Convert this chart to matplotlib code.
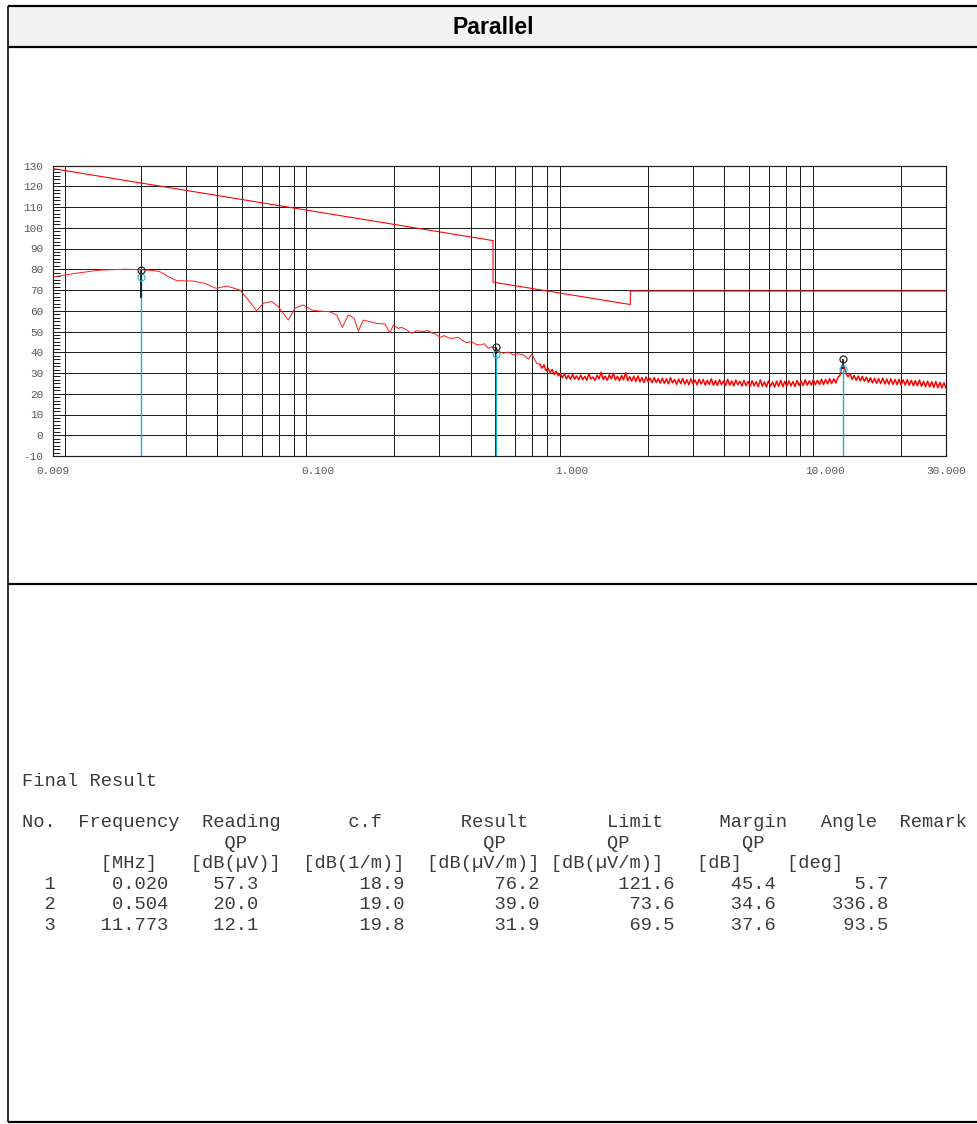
import numpy as np
import matplotlib
matplotlib.use("Agg")
import matplotlib.pyplot as plt
from matplotlib.ticker import FixedLocator, MultipleLocator, LogLocator, NullFormatter, FixedFormatter
from matplotlib.patches import Rectangle

plt.rcParams["axes.unicode_minus"] = False

# ---------------------------------------------------------------- data
# limit line corner points (MHz, dB(uV/m))
limit_freq = [0.009, 0.49, 0.49, 1.705, 1.705, 30.0]
limit_level = [128.5, 93.8, 73.8, 63.0, 69.5, 69.5]

# low-frequency part of the scan (MHz, dB(uV/m))
scan_freq_low = [0.009, 0.01099, 0.01379, 0.01731, 0.0200, 0.02273, 0.02379, 0.02558,
                 0.02768, 0.03219, 0.03579, 0.03956, 0.0436, 0.0492, 0.05305, 0.05726,
                 0.06078, 0.06562, 0.06968, 0.0763, 0.08107, 0.08743, 0.09435, 0.1000,
                 0.1114, 0.1184, 0.1246, 0.1316, 0.1386, 0.1441, 0.1508, 0.1603,
                 0.1703, 0.1836, 0.1921, 0.1980, 0.2072, 0.2137, 0.2237, 0.2340,
                 0.2449, 0.2600, 0.2700, 0.2806, 0.2920, 0.3027, 0.3150, 0.3280,
                 0.3415, 0.3560, 0.3700, 0.3857, 0.4020, 0.4180, 0.4351, 0.4520,
                 0.4693, 0.4860, 0.5040, 0.5200, 0.5378, 0.5630, 0.5890, 0.6150,
                 0.6449, 0.6600, 0.6749, 0.6961, 0.7120, 0.7284]
scan_level_low = [76.3, 78.0, 79.6, 80.0, 79.8, 79.3, 78.8, 76.5,
                  74.5, 74.3, 73.2, 70.8, 71.9, 70.0, 65.2, 60.0,
                  63.6, 64.4, 62.0, 55.5, 61.2, 62.8, 60.4, 59.9,
                  59.5, 58.0, 52.0, 58.0, 56.4, 50.2, 55.5, 54.7,
                  53.9, 53.6, 49.4, 53.1, 51.5, 52.0, 50.7, 49.1,
                  50.4, 49.9, 50.5, 49.4, 48.6, 47.2, 48.0, 46.9,
                  46.7, 47.3, 45.8, 44.6, 45.2, 43.9, 43.5, 44.1,
                  41.9, 42.6, 42.0, 40.3, 39.5, 40.1, 38.7, 39.3,
                  38.7, 37.9, 36.6, 39.2, 36.8, 34.7]

# noise floor 0.75 MHz .. 30 MHz, one reading per sweep step
floor_start, floor_stop = 0.75, 30.0
floor_level = [
    34.2, 32.3, 33.9, 31.1, 32.4, 30.3, 31.7, 29.2, 30.8, 28.6, 29.8, 27.7, 29.6, 27.2, 28.9, 26.9, 29.4, 27.0, 28.6, 26.7,
    29.0, 26.8, 28.4, 26.5, 29.7, 27.1, 28.1, 26.4, 28.9, 27.2, 30.4, 26.8, 28.5, 26.5, 29.1, 27.2, 29.9, 26.6, 28.4, 26.3,
    28.8, 26.7, 30.2, 26.3, 28.2, 26.1, 28.5, 25.9, 28.6, 25.7, 27.8, 25.4, 28.1, 25.8, 27.5, 25.3, 27.8, 25.4, 27.3, 25.1,
    27.5, 25.0, 27.2, 24.7, 27.8, 25.2, 26.9, 24.5, 27.1, 24.9, 27.4, 24.6, 26.8, 24.3, 27.2, 24.8, 26.6, 24.3, 27.0, 24.7,
    26.9, 24.2, 26.5, 24.5, 27.2, 24.1, 26.3, 24.0, 26.8, 24.4, 26.2, 23.9, 27.0, 24.2, 26.1, 23.8, 26.6, 24.3, 26.0, 23.7,
    26.5, 23.9, 25.9, 23.5, 26.3, 23.8, 25.8, 23.4, 26.8, 23.6, 25.7, 23.3, 26.2, 23.7, 25.6, 23.2, 26.1, 23.6, 26.5, 23.4,
    26.0, 23.6, 26.2, 23.8, 25.9, 23.5, 26.4, 24.0, 26.1, 23.9, 26.7, 24.1, 26.2, 24.2, 26.8, 24.3, 26.5, 24.5, 27.0, 24.4,
    26.9, 24.7, 27.3, 24.9, 27.2, 25.2, 27.8, 28.8, 33.6, 33.2, 29.8, 28.2, 29.6, 26.9, 28.8, 26.5, 28.6, 26.2, 28.3, 26.0,
    28.0, 25.5, 27.7, 25.2, 27.5, 25.0, 27.3, 24.9, 27.6, 24.7, 27.1, 24.6, 27.2, 24.5, 26.9, 24.4, 27.0, 24.3, 26.7, 24.2,
    26.8, 24.1, 26.5, 23.9, 26.3, 23.8, 26.6, 23.6, 26.0, 23.4, 26.1, 23.3, 25.8, 23.1, 25.9, 22.9, 25.5, 22.8, 25.3, 22.7,
]

# final QP results
res_no = [1, 2, 3]
res_freq = [0.020, 0.504, 11.773]
res_reading = [57.3, 20.0, 12.1]
res_cf = [18.9, 19.0, 19.8]
res_result = [76.2, 39.0, 31.9]
res_limit = [121.6, 73.6, 69.5]
res_margin = [45.4, 34.6, 37.6]
res_angle = [5.7, 336.8, 93.5]

# peak-search markers
peak_level = [79.8, 42.4, 36.6]
peak_stem_end = [66.0, 39.0, 31.9]

xtick_vals = [0.009, 0.1, 1.0, 10.0, 30.0]
xtick_labels = ["0.009", "0.100", "1.000", "10.000", "30.000"]
ytick_vals = list(range(-10, 131, 10))

title_text = "Parallel"
table_title = "Final Result"
head_cols = [(0, "No."), (5, "Frequency"), (16, "Reading"), (29, "c.f"), (39, "Result"),
             (52, "Limit"), (62, "Margin"), (71, "Angle"), (78, "Remark")]
det_cols = [(18, "QP"), (41, "QP"), (52, "QP"), (64, "QP")]
unit_cols = [(7, "[MHz]"), (15, "[dB(µV)]"), (25, "[dB(1/m)]"), (36, "[dB(µV/m)]"),
             (47, "[dB(µV/m)]"), (60, "[dB]"), (68, "[deg]")]

# ---------------------------------------------------------------- figure
W, H = 977, 1124
DPI = 100
PX = 72.0 / DPI  # points per pixel
fig = plt.figure(figsize=(W / DPI, H / DPI), dpi=DPI)
fig.patch.set_facecolor("white")

# page frame in pixel coordinates
bg = fig.add_axes([0, 0, 1, 1])
bg.set_xlim(0, W)
bg.set_ylim(H, 0)
bg.axis("off")
bg.add_patch(Rectangle((8, 6), W, 41, facecolor="#f2f2f2", edgecolor="none"))
for yy in (6, 47, 584, 1122):
    bg.plot([8, W + 5], [yy, yy], color="black", lw=2.2 * PX, solid_capstyle="butt")
bg.plot([8, 8], [6, 1122], color="black", lw=1.6 * PX, solid_capstyle="butt")
bg.text(493.5, 27, title_text, ha="center", va="center", fontsize=16.6,
        fontweight="bold", family="Liberation Sans")


def place(fields, width=86):
    buf = [" "] * width
    for col, s in fields:
        buf[col:col + len(s)] = list(s)
    return "".join(buf).rstrip()


rows = []
for n, f, rd, c, r, lm, mg, an in zip(res_no, res_freq, res_reading, res_cf,
                                       res_result, res_limit, res_margin, res_angle):
    rows.append(f"{n:>3}{f:>10.3f}{rd:>8.1f}{c:>13.1f}{r:>12.1f}{lm:>12.1f}{mg:>9.1f}{an:>10.1f}")

lines = [place(head_cols), place(det_cols), place(unit_cols)] + rows
mono = dict(family="Liberation Mono", fontsize=13.5, color="#3a3a3a")
bg.text(22, 786, table_title, ha="left", va="baseline", **mono)
for i, s in enumerate(lines):
    bg.text(22, 827 + 20.55 * i, s, ha="left", va="baseline", **mono)

# ---------------------------------------------------------------- chart
L, T, R, B = 53, 165.5, 946, 456
ax = fig.add_axes([L / W, 1 - B / H, (R - L) / W, (B - T) / H])
ax.set_xscale("log")
ax.set_xlim(0.009, 30)
ax.set_ylim(-10, 130)

grid_kw = dict(color="#1e1e1e", lw=1.0 * PX)
ax.xaxis.set_major_locator(FixedLocator(xtick_vals))
ax.xaxis.set_major_formatter(FixedFormatter(xtick_labels))
ax.xaxis.set_minor_locator(LogLocator(base=10, subs=range(1, 10), numticks=20))
ax.xaxis.set_minor_formatter(NullFormatter())
ax.grid(which="minor", axis="x", **grid_kw)
ax.yaxis.set_major_locator(FixedLocator(ytick_vals))
ax.yaxis.set_minor_locator(MultipleLocator(10 / 6))
ax.grid(which="major", axis="y", **grid_kw)

tick_font = dict(family="Liberation Mono", size=8)
ax.tick_params(axis="x", which="both", length=0, pad=7, labelcolor="#5a5a5a")
ax.tick_params(axis="y", which="major", length=0, pad=7, labelcolor="#5a5a5a")
ax.tick_params(axis="y", which="minor", direction="in", length=7 * PX,
               width=1.0 * PX, color="#1e1e1e")
for lab in ax.get_xticklabels() + ax.get_yticklabels():
    lab.set_fontproperties(tick_font)
for sp in ax.spines.values():
    sp.set_color("#1e1e1e")
    sp.set_linewidth(1.2 * PX)

# limit line
ax.plot(limit_freq, limit_level, color="red", lw=1.1 * PX, zorder=3)

# measured trace: smooth low band, then the denser noise floor
floor_freq = np.geomspace(floor_start, floor_stop, len(floor_level))
ax.plot(list(scan_freq_low) + [floor_freq[0]], list(scan_level_low) + [floor_level[0]],
        color="#ff2020", lw=1.0 * PX, zorder=4)
ax.plot(floor_freq, floor_level, color="red", lw=1.5 * PX, zorder=4)

# final-result markers
ax.vlines(res_freq, -10, res_result, color="#1fb2d8", lw=1.4 * PX, zorder=5)
ax.vlines(res_freq, peak_stem_end, peak_level, color="black", lw=1.6 * PX, zorder=6)
ax.plot(res_freq, res_result, "o", mfc="none", mec="#2fb6d8", ms=7 * PX, mew=1.2 * PX, zorder=7)
ax.plot(res_freq, peak_level, "o", mfc="none", mec="#222222", ms=7 * PX, mew=1.2 * PX, zorder=7)

fig.savefig("out.png", dpi=DPI)
